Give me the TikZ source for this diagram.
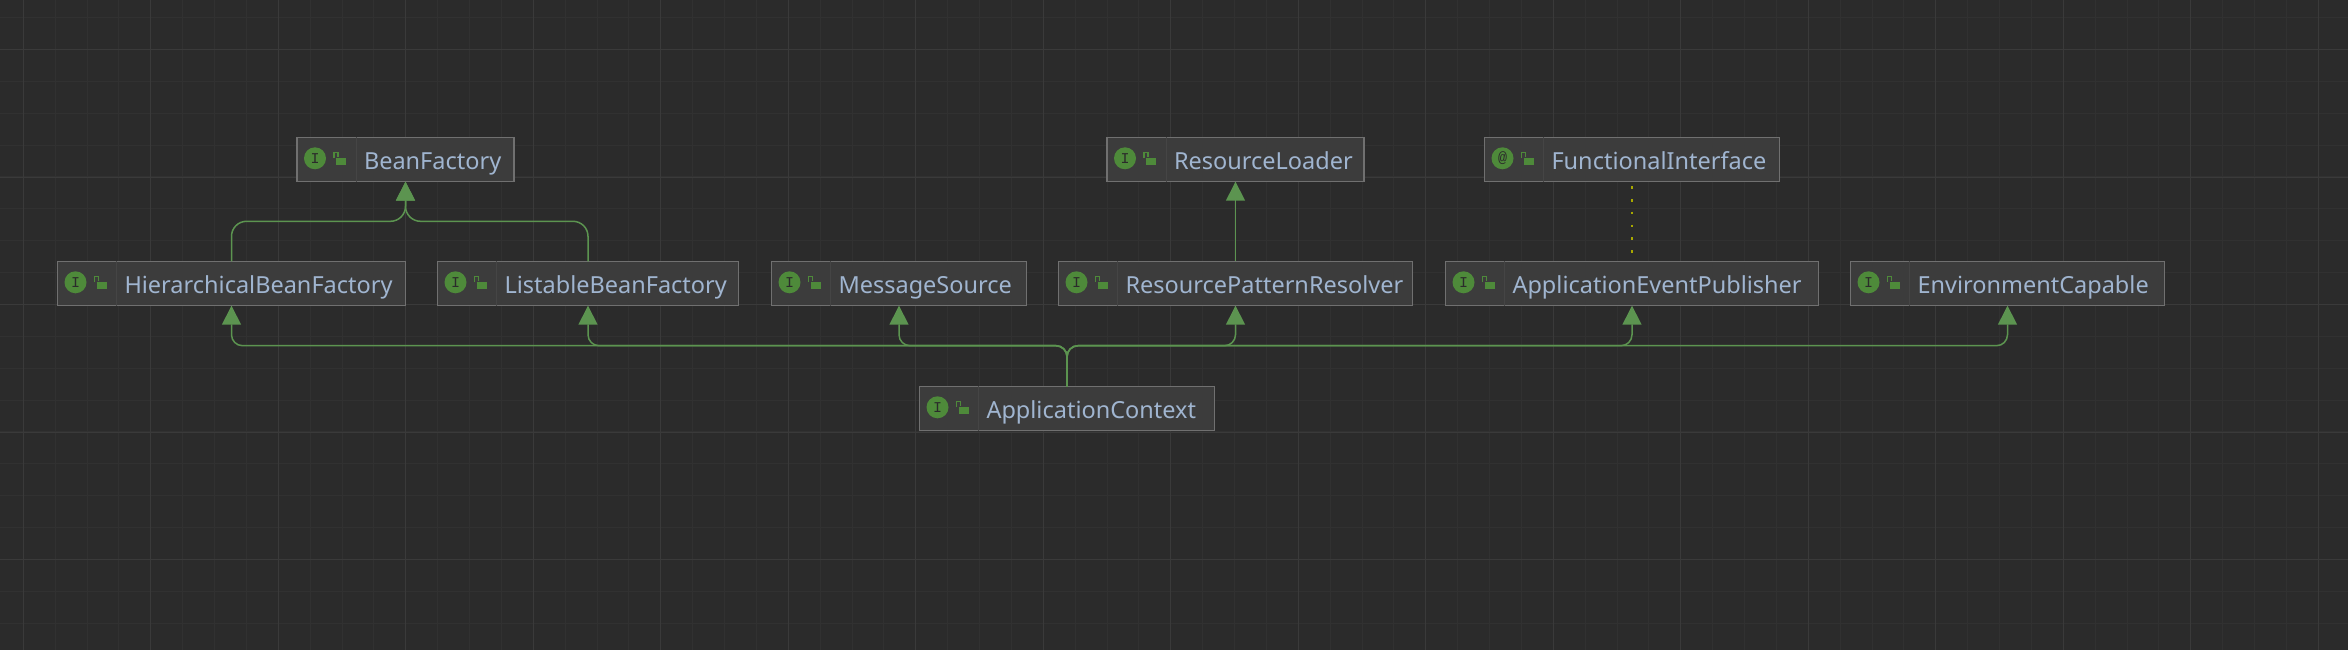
\documentclass[tikz,border=0pt]{standalone}
\usepackage{fontspec}
\setmainfont{Noto Sans}
\newfontfamily\badgefont{Liberation Mono}
\usetikzlibrary{positioning,arrows.meta,calc}
\definecolor{GridBack}{HTML}{2B2B2B}
\definecolor{GridMinor}{HTML}{313131}
\definecolor{GridMajor}{HTML}{3A3A3A}
\definecolor{BoxFill}{HTML}{3C3C3C}
\definecolor{BoxEdge}{HTML}{707070}
\definecolor{LabelBlue}{HTML}{A0B5D0}
\definecolor{LinkGreen}{HTML}{5C9450}
\definecolor{BadgeGreen}{HTML}{4E8A3A}
\definecolor{DotOlive}{HTML}{A8A800}
\tikzset{
  x=1pt, y=-1pt,
  iface/.style={draw=BoxEdge, line width=1.4pt, fill=BoxFill, outer sep=0pt, inner xsep=15pt, inner ysep=0pt,
                minimum height=44.4pt, align=left, text=LabelBlue, text height=24pt, text depth=4.4pt,
                font=\fontsize{23.5}{26}\selectfont,
                execute at begin node={\hyphenpenalty=10000\relax\hspace*{52pt}}},
  badge/.style={circle, fill=BadgeGreen, minimum size=22pt, inner sep=0pt, text=GridBack,
                font=\badgefont\fontsize{15}{16}\selectfont},
  flow/.style={-{Triangle[length=19pt,width=19pt]}, line width=1.5pt, LinkGreen},
  weak/.style={DotOlive, line width=2.6pt, dash pattern=on 2.6pt off 10.2pt},
}
\begin{document}
\begin{tikzpicture}
  \useasboundingbox (0,0) rectangle (2348,650);
  \fill[GridBack] (0,0) rectangle (2348,650);
  % grid
  \foreach \k in {0,...,73} \draw[GridMinor, line width=1pt] ({23.3-31.875+31.875*\k},0) -- ++(0,650);
  \foreach \k in {0,...,20} \draw[GridMinor, line width=1pt] (0,{17.6+31.875*\k}) -- ++(2348,0);
  \foreach \k in {0,...,18} \draw[GridMajor, line width=1pt] ({23.3+127.5*\k},0) -- ++(0,650);
  \foreach \k in {0,...,4} \draw[GridMajor, line width=1pt] (0,{49.5+127.5*\k}) -- ++(2348,0);

  \node[iface, text width=318pt] (hier) at (231.5,283.5) {HierarchicalBeanFactory};
  \node[iface, text width=271pt, right=32pt of hier] (list) {ListableBeanFactory};
  \node[iface, text width=225pt, right=33pt of list] (msg) {MessageSource};
  \node[iface, text width=324pt, right=32pt of msg] (res) {ResourcePatternResolver};
  \node[iface, text width=343pt, right=33pt of res] (pub) {ApplicationEventPublisher};
  \node[iface, text width=284pt, right=32pt of pub] (env) {EnvironmentCapable};
  \node[iface, text width=187pt, above=79.6pt of hier.north east] (bean) {BeanFactory};
  \node[iface, text width=227pt, above=79.6pt of res] (load) {ResourceLoader};
  \node[iface, text width=265pt, above=79.6pt of pub] (func) {FunctionalInterface};
  \node[iface, text width=265pt] (ctx) at (1067,408.5) {ApplicationContext};

  \foreach \n/\c in {hier/I,list/I,msg/I,res/I,pub/I,env/I,bean/I,load/I,ctx/I,func/@} {
    \node[badge] (\n-badge) at ([xshift=18pt,yshift=-21pt]\n.north west) {\c};
    \draw[BoxEdge!18!BoxFill, line width=1pt] ([xshift=59pt]\n.north west) -- ([xshift=59pt]\n.south west);
    \fill[BadgeGreen] ([xshift=39pt,yshift=-20.5pt]\n.north west) rectangle ++(10,7.5);
    \draw[BadgeGreen, line width=1.3pt] ([xshift=37pt,yshift=-20.5pt]\n.north west) -- ++(0,-5) -- ++(4,0) -- ++(0,4);
  }

  \coordinate (upper) at (0,221.3);
  \coordinate (lower) at (0,345.7);
  \draw[flow, rounded corners=15pt] (hier.north) -- (hier.north |- upper) -| (bean.south);
  \draw[flow, rounded corners=15pt] (list.north) -- (list.north |- upper) -| (bean.south);
  \draw[flow] (res.north) -- (load.south);
  \draw[weak] (func.south) ++(0,4.4) -- (pub.north);
  \foreach \n in {hier,list,msg,res,pub,env}
    \draw[flow, rounded corners=11pt] (ctx.north) |- (\n.south |- lower) -- (\n.south);
\end{tikzpicture}
\end{document}
